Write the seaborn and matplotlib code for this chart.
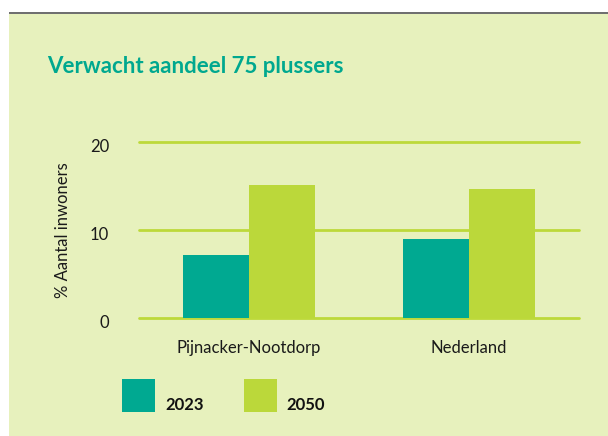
import matplotlib
matplotlib.use("Agg")
import matplotlib.pyplot as plt
from matplotlib.patches import Rectangle
from matplotlib.transforms import ScaledTranslation
import seaborn as sns
import pandas as pd

# ---- data ----
regions = ["Pijnacker-Nootdorp", "Nederland"]
years = ["2023", "2050"]
values_2023 = [7.2, 9.0]
values_2050 = [15.1, 14.7]
yticks = [0, 10, 20]
title = "Verwacht aandeel 75 plussers"
ylabel = "% Aantal inwoners"

df = pd.DataFrame({
    "regio": regions * 2,
    "jaar": [years[0]] * len(regions) + [years[1]] * len(regions),
    "waarde": values_2023 + values_2050,
})

TEAL = "#00A991"
LIME = "#BBD83A"
PANEL = "#E7F1BD"
GRID = "#BDD93A"

sns.set_theme(style="white")
plt.rcParams["font.family"] = ["Lato", "DejaVu Sans"]

W, H = 608, 436
fig = plt.figure(figsize=(W / 100, H / 100), dpi=100, facecolor="white")

# background panel + top grey rule
fig.patches.append(Rectangle((9 / W, 0), 1 - 9 / W, 1 - 13 / H, transform=fig.transFigure,
                             facecolor=PANEL, edgecolor="none", zorder=-10))
fig.patches.append(Rectangle((9 / W, 1 - 14 / H), 1 - 9 / W, 2 / H, transform=fig.transFigure,
                             facecolor="#707070", edgecolor="none", zorder=-9))

ax = fig.add_axes([139 / W, 1 - 318 / H, (579 - 139) / W, (318 - 142) / H])
ax.set_zorder(5)
ax.set_facecolor("none")

sns.barplot(data=df, x="regio", y="waarde", hue="jaar", palette=[TEAL, LIME],
            width=0.6, gap=0, saturation=1, ax=ax, zorder=3, linewidth=0, edgecolor="none")

ax.set_ylim(0, 20)
ax.set_xlim(-0.5, 1.5)
ax.set_yticks(yticks)
ax.set_yticklabels([str(v) for v in yticks])
for s in ax.spines.values():
    s.set_visible(False)
ax.grid(False)
for v in yticks:
    ax.axhline(v, color=GRID, lw=2.0, zorder=1, clip_on=False)

fs = 12
ax.tick_params(axis="y", length=0, pad=21.6, labelsize=fs, labelcolor="#1a1a1a")
ax.tick_params(axis="x", length=0, pad=16, labelsize=fs, labelcolor="#1a1a1a")
for t in ax.get_yticklabels():
    t.set_transform(t.get_transform() + ScaledTranslation(0, -4 / 100, fig.dpi_scale_trans))

ax.set_xlabel("")
ax.set_ylabel(ylabel, fontsize=fs, color="#1a1a1a", va="center")
ax.yaxis.set_label_coords((63 - 139) / (579 - 139), 0.5)

fig.text(47 / W, 1 - 73 / H, title, fontsize=16, fontweight="bold", color="#00A88F",
         ha="left", va="baseline")

px = fs * 100 / 72
hh = (33 / px - 0.245) / 0.65
sns.move_legend(ax, loc="upper left", bbox_to_anchor=(122 / W, 1 - 379 / H),
                bbox_transform=fig.transFigure, ncol=2, frameon=False, title=None,
                handlelength=33 / px, handleheight=hh,
                handletextpad=10 / px, columnspacing=40 / px, borderpad=0, borderaxespad=0,
                prop={"weight": "bold", "size": fs})
leg = ax.get_legend()
descent = 0.35 * px * (hh - 0.7)
for t in leg.get_texts():
    t.set_color("#111111")
    t.set_y(-(descent - 2))

fig.savefig("out.png", dpi=100, facecolor="white")
